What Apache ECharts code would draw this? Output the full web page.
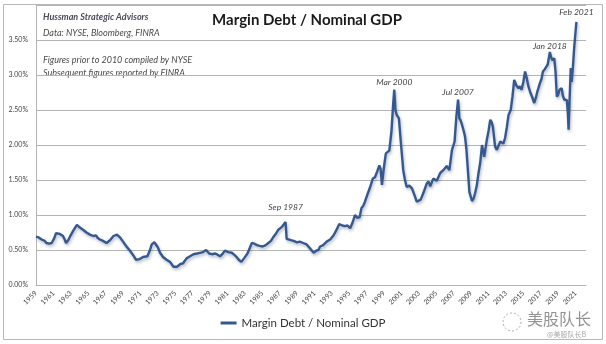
<!DOCTYPE html>
<html>
<head>
<meta charset="utf-8">
<script src="https://cdn.jsdelivr.net/npm/echarts@6/dist/echarts.min.js"></script>
<style>
  html, body { margin: 0; padding: 0; background: #fff; }
  #chart { width: 606px; height: 344px; }
</style>
</head>
<body>
<div id="chart"></div>
<script>
// margin debt as a share of nominal GDP, in percent (year as decimal)
const years = [
  1959.0, 1959.3, 1959.65, 1960.0, 1960.2, 1960.5, 1960.8, 1961.1, 1961.3, 1961.5,
  1961.75, 1962.1, 1962.3, 1962.45, 1962.7, 1962.9, 1963.3, 1963.7, 1964.05, 1964.4,
  1964.8, 1965.2, 1965.6, 1965.9, 1966.1, 1966.35, 1966.7, 1967.1, 1967.5, 1967.9,
  1968.1, 1968.3, 1968.65, 1969.0, 1969.4, 1969.8, 1970.2, 1970.5, 1970.9, 1971.3,
  1971.8, 1972.1, 1972.3, 1972.6, 1972.8, 1973.0, 1973.25, 1973.6, 1974.0, 1974.4,
  1974.8, 1975.0, 1975.2, 1975.4, 1975.6, 1975.9, 1976.3, 1976.7, 1977.1, 1977.5,
  1977.85, 1978.2, 1978.55, 1978.9, 1979.2, 1979.6, 1979.9, 1980.15, 1980.4, 1980.7,
  1981.1, 1981.5, 1981.8, 1982.05, 1982.3, 1982.6, 1982.9, 1983.3, 1983.6, 1983.8,
  1984.1, 1984.4, 1984.7, 1985.05, 1985.4, 1985.7, 1986.0, 1986.3, 1986.6, 1986.85,
  1987.05, 1987.25, 1987.45, 1987.68, 1987.8, 1988.0, 1988.3, 1988.6, 1989.0, 1989.3,
  1989.7, 1990.1, 1990.5, 1990.9, 1991.2, 1991.45, 1991.65, 1992.0, 1992.4, 1992.8,
  1993.2, 1993.5, 1993.85, 1994.2, 1994.5, 1994.8, 1995.1, 1995.4, 1995.65, 1995.9,
  1996.2, 1996.4, 1996.6, 1996.8, 1997.1, 1997.4, 1997.7, 1997.95, 1998.2, 1998.45,
  1998.6, 1998.75, 1998.95, 1999.2, 1999.4, 1999.6, 1999.85, 2000.05, 2000.17, 2000.3,
  2000.45, 2000.7, 2000.95, 2001.2, 2001.4, 2001.6, 2001.9, 2002.2, 2002.5, 2002.75,
  2002.95, 2003.2, 2003.5, 2003.9, 2004.1, 2004.3, 2004.65, 2005.05, 2005.45, 2005.8,
  2006.0, 2006.2, 2006.5, 2006.8, 2007.1, 2007.3, 2007.5, 2007.65, 2007.8, 2007.95,
  2008.15, 2008.3, 2008.45, 2008.6, 2008.8, 2009.1, 2009.3, 2009.45, 2009.65, 2009.85,
  2010.05, 2010.25, 2010.5, 2010.8, 2011.0, 2011.2, 2011.35, 2011.5, 2011.75, 2011.95,
  2012.15, 2012.35, 2012.5, 2012.7, 2012.9, 2013.1, 2013.3, 2013.55, 2013.75, 2013.95,
  2014.2, 2014.45, 2014.6, 2014.8, 2015.0, 2015.2, 2015.4, 2015.6, 2015.8, 2016.0,
  2016.25, 2016.45, 2016.6, 2016.9, 2017.1, 2017.25, 2017.45, 2017.6, 2017.8, 2018.05,
  2018.2, 2018.35, 2018.55, 2018.7, 2018.85, 2019.0, 2019.15, 2019.4, 2019.55, 2019.7,
  2019.85, 2020.0, 2020.12, 2020.2, 2020.3, 2020.45, 2020.55, 2020.7, 2020.85, 2020.95,
  2021.1
];
const ratio = [
  0.69, 0.68, 0.65, 0.63, 0.60, 0.59, 0.60, 0.67, 0.74, 0.72,
  0.73, 0.70, 0.65, 0.60, 0.64, 0.69, 0.78, 0.86, 0.82, 0.79,
  0.75, 0.72, 0.70, 0.71, 0.67, 0.65, 0.63, 0.60, 0.64, 0.70,
  0.68, 0.72, 0.68, 0.62, 0.55, 0.49, 0.42, 0.36, 0.37, 0.40,
  0.41, 0.50, 0.58, 0.61, 0.60, 0.54, 0.46, 0.40, 0.36, 0.33,
  0.26, 0.24, 0.26, 0.28, 0.30, 0.31, 0.38, 0.41, 0.44, 0.45,
  0.46, 0.47, 0.50, 0.45, 0.44, 0.45, 0.43, 0.41, 0.44, 0.49,
  0.47, 0.46, 0.43, 0.40, 0.36, 0.33, 0.38, 0.45, 0.54, 0.60,
  0.59, 0.57, 0.56, 0.55, 0.57, 0.60, 0.63, 0.69, 0.74, 0.79,
  0.80, 0.83, 0.82, 0.90, 0.66, 0.64, 0.64, 0.63, 0.61, 0.62,
  0.60, 0.58, 0.52, 0.46, 0.49, 0.50, 0.55, 0.57, 0.62, 0.65,
  0.71, 0.78, 0.87, 0.85, 0.84, 0.85, 0.81, 0.90, 1.00, 0.96,
  0.97, 1.10, 1.13, 1.19, 1.30, 1.40, 1.52, 1.54, 1.62, 1.71,
  1.66, 1.43, 1.65, 1.88, 1.90, 1.92, 2.20, 2.60, 2.79, 2.50,
  2.43, 2.38, 2.00, 1.64, 1.50, 1.40, 1.42, 1.38, 1.28, 1.19,
  1.19, 1.22, 1.31, 1.45, 1.48, 1.41, 1.52, 1.49, 1.60, 1.64,
  1.62, 1.70, 1.64, 1.93, 2.05, 2.40, 2.65, 2.38, 2.35, 2.29,
  2.20, 2.12, 1.95, 1.69, 1.33, 1.20, 1.24, 1.31, 1.42, 1.60,
  1.75, 2.00, 1.83, 2.07, 2.20, 2.36, 2.33, 2.26, 1.98, 1.93,
  1.95, 2.05, 2.07, 2.02, 2.10, 2.25, 2.43, 2.50, 2.69, 2.93,
  2.85, 2.81, 2.84, 2.79, 2.90, 3.05, 2.95, 2.83, 2.75, 2.69,
  2.60, 2.68, 2.76, 2.88, 2.95, 3.05, 3.08, 3.10, 3.15, 3.33,
  3.25, 3.21, 3.24, 3.05, 2.69, 2.72, 2.79, 2.81, 2.70, 2.65,
  2.66, 2.64, 2.45, 2.22, 2.60, 3.10, 2.90, 3.12, 3.40, 3.55,
  3.76
];

// labelled peaks
const peakNames = ['Sep 1987', 'Mar 2000', 'Jul 2007', 'Jan 2018', 'Feb 2021'];
const peakYears = [1987.68, 2000.17, 2007.5, 2018.05, 2021.1];
const peakGap = [10, 3, 3, 1, 5];

const yTicks = [0, 0.5, 1.0, 1.5, 2.0, 2.5, 3.0, 3.5];

const noteLines = [
  'Data: NYSE, Bloomberg, FINRA',
  '',
  'Figures prior to 2010 compiled by NYSE',
  'Subsequent figures reported by FINRA'
];

const FONT = 'Lato, "Open Sans", sans-serif';
const LINE_COLOR = '#35588f';

let chart = echarts.init(document.getElementById('chart'));

let seriesData = years.map((y, i) => [y, ratio[i]]);
let peakMarks = peakNames.map((name, i) => {
  let idx = years.indexOf(peakYears[i]);
  return {
    coord: [years[idx], ratio[idx]],
    label: { formatter: name, distance: peakGap[i] }
  };
});

chart.setOption({
  animation: false,
  backgroundColor: '#fff',
  textStyle: { fontFamily: FONT },
  title: {
    text: 'Margin Debt / Nominal GDP',
    left: 302,
    textAlign: 'center',
    top: 8,
    textStyle: { fontSize: 15, fontWeight: 'bold', color: '#1a1a1a', fontFamily: FONT }
  },
  legend: {
    bottom: 10,
    left: 'center',
    itemWidth: 16,
    itemHeight: 3,
    icon: 'rect',
    textStyle: { fontSize: 11.5, color: '#333', fontFamily: FONT },
    data: ['Margin Debt / Nominal GDP']
  },
  grid: { left: 36, right: 20, top: 5, bottom: 59 },
  xAxis: {
    type: 'value',
    min: 1959,
    max: 2022.2,
    interval: 1,
    axisLine: { show: true, lineStyle: { color: '#b4b4b4' } },
    axisTick: { show: false },
    splitLine: { show: false },
    axisLabel: {
      rotate: 45,
      fontSize: 7,
      color: '#444',
      margin: 7,
      showMaxLabel: false,
      formatter: v => (v % 2 === 1 ? String(v) : '')
    }
  },
  yAxis: {
    type: 'value',
    min: 0,
    max: 4,
    interval: 0.5,
    axisLine: { show: true, lineStyle: { color: '#b4b4b4' } },
    axisTick: { show: false },
    splitLine: { lineStyle: { color: '#b4b4b4', width: 1 } },
    axisLabel: {
      fontSize: 7,
      color: '#444',
      margin: 8,
      showMaxLabel: false,
      formatter: v => (yTicks.includes(v) ? v.toFixed(2) + '%' : '')
    }
  },
  series: [
    {
      name: 'Margin Debt / Nominal GDP',
      type: 'line',
      data: seriesData,
      showSymbol: false,
      symbol: 'none',
      color: LINE_COLOR,
      lineStyle: {
        width: 2.4,
        color: LINE_COLOR,
        shadowColor: 'rgba(40,60,90,0.35)',
        shadowBlur: 3,
        shadowOffsetX: 1,
        shadowOffsetY: 2
      },
      markPoint: {
        symbol: 'circle',
        symbolSize: 0,
        silent: true,
        label: {
          show: true,
          position: 'top',
          fontSize: 8.5,
          fontStyle: 'italic',
          color: '#444',
          fontFamily: FONT
        },
        data: peakMarks
      }
    }
  ],
  graphic: [
    {
      type: 'rect',
      shape: { x: 3.5, y: 4.5, width: 599, height: 335 },
      style: { fill: 'none', stroke: '#b8b8b8', lineWidth: 1 },
      z: 100
    },
    {
      type: 'text',
      left: 43,
      top: 13,
      style: {
        text: 'Hussman Strategic Advisors',
        fontSize: 9,
        fontWeight: 'bold',
        fontStyle: 'italic',
        fill: '#4a4a5a',
        fontFamily: FONT
      }
    },
    {
      type: 'text',
      left: 43,
      top: 26,
      style: {
        text: noteLines.join('\n'),
        fontSize: 9,
        lineHeight: 13.5,
        fontStyle: 'italic',
        fill: '#4a4a4a',
        fontFamily: FONT
      }
    },
    {
      type: 'text',
      left: 527,
      top: 311,
      style: {
        text: '美股队长',
        fontSize: 16,
        fill: 'rgba(110,110,110,0.75)',
        fontFamily: '"Noto Sans CJK SC", sans-serif'
      }
    },
    {
      type: 'text',
      left: 547,
      top: 331,
      style: {
        text: '@美股队长B',
        fontSize: 7,
        fill: 'rgba(130,130,130,0.7)',
        fontFamily: '"Noto Sans CJK SC", sans-serif'
      }
    },
    {
      type: 'circle',
      shape: { cx: 512, cy: 322, r: 9 },
      style: { fill: 'none', stroke: 'rgba(120,120,120,0.6)', lineWidth: 1, lineDash: [2, 2] }
    }
  ]
});
</script>
</body>
</html>
